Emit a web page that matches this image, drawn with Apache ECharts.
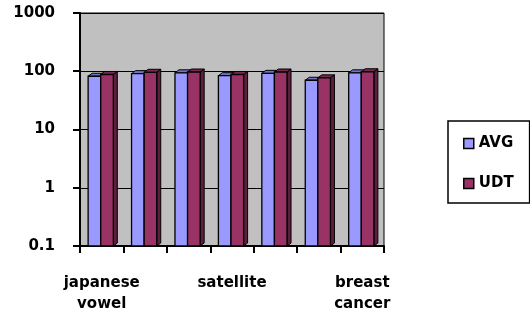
<!DOCTYPE html>
<html>
<head>
<meta charset="utf-8">
<script src="https://cdn.jsdelivr.net/npm/echarts@6/dist/echarts.min.js"></script>
<style>html,body{margin:0;padding:0;background:#fff}#c{width:530px;height:320px}</style>
</head>
<body>
<div id="c"></div>
<script>
var categories = ["japanese\nvowel", "", "", "satellite", "", "", "breast\ncancer"];
var avgValues = [82, 91, 94, 84, 92, 70, 94];
var udtValues = [88, 96, 97, 88, 97, 77, 98];
var seriesNames = ["AVG", "UDT"];

var FONT = "'DejaVu Sans', sans-serif";

function makeRender(which, front, side, topc) {
  return function (params, api) {
    var idx = api.value(0), val = api.value(1);
    var topPt = api.coord([idx, val]);
    var basePt = api.coord([idx, 0.1]);
    var band = api.coord([1, 1])[0] - api.coord([0, 1])[0];
    var bw = band * 0.29;
    var cx = topPt[0] - 1;
    var x0 = which === 0 ? cx - bw : cx;
    var x1 = x0 + bw;
    var dx = 4, dy = 3;
    var yt = topPt[1], yb = basePt[1];
    return {
      type: 'group',
      children: [
        { type: 'polygon', shape: { points: [[x1, yt], [x1 + dx, yt - dy], [x1 + dx, yb - dy], [x1, yb]] },
          style: { fill: side, stroke: '#000', lineWidth: 1 } },
        { type: 'polygon', shape: { points: [[x0, yt], [x0 + dx, yt - dy], [x1 + dx, yt - dy], [x1, yt]] },
          style: { fill: topc, stroke: '#000', lineWidth: 1 } },
        { type: 'rect', shape: { x: x0, y: yt, width: bw, height: yb - yt },
          style: { fill: front, stroke: '#000', lineWidth: 1.3 } }
      ]
    };
  };
}

var chart = echarts.init(document.getElementById('c'), null, { renderer: 'canvas' });
chart.setOption({
  animation: false,
  backgroundColor: '#fff',
  grid: { left: 80, right: 146, top: 13, bottom: 74, show: true, backgroundColor: '#C0C0C0', borderColor: '#000', borderWidth: 1 },
  legend: {
    orient: 'vertical', left: 448, top: 121,
    padding: [15, 16, 12, 15],
    borderColor: '#000', borderWidth: 1.5,
    itemWidth: 10, itemHeight: 10, itemGap: 25,
    textStyle: { fontFamily: FONT, fontWeight: 'bold', fontSize: 15, color: '#000' },
    data: [
      { name: seriesNames[0], icon: 'rect', itemStyle: { color: '#9999FF', borderColor: '#000', borderWidth: 1.5 } },
      { name: seriesNames[1], icon: 'rect', itemStyle: { color: '#993366', borderColor: '#000', borderWidth: 1.5 } }
    ]
  },
  xAxis: {
    type: 'category', data: categories,
    axisLine: { lineStyle: { color: '#000', width: 2 } },
    axisTick: { show: true, interval: 0, length: 7, lineStyle: { color: '#000', width: 2 } },
    axisLabel: { interval: 2, margin: 27, lineHeight: 21, fontFamily: FONT, fontWeight: 'bold', fontSize: 15, color: '#000' },
    splitLine: { show: false }
  },
  yAxis: {
    type: 'log', logBase: 10, min: 0.1, max: 1000,
    axisLine: { show: true, lineStyle: { color: '#000', width: 2 } },
    axisTick: { show: true, length: 7, lineStyle: { color: '#000', width: 2 } },
    axisLabel: { margin: 25, fontFamily: FONT, fontWeight: 'bold', fontSize: 15, color: '#000',
      formatter: function (v) { return String(Math.round(v * 10) / 10); } },
    splitLine: { show: true, lineStyle: { color: '#000', width: 1 } }
  },
  series: [
    { name: seriesNames[0], type: 'custom', renderItem: makeRender(0, '#9999FF', '#5E5EA8', '#7373C4'),
      itemStyle: { color: '#9999FF' }, encode: { x: 0, y: 1 },
      data: avgValues.map(function (v, i) { return [i, v]; }) },
    { name: seriesNames[1], type: 'custom', renderItem: makeRender(1, '#993366', '#5C1F3D', '#7A2951'),
      itemStyle: { color: '#993366' }, encode: { x: 0, y: 1 },
      data: udtValues.map(function (v, i) { return [i, v]; }) }
  ]
});
</script>
</body>
</html>
